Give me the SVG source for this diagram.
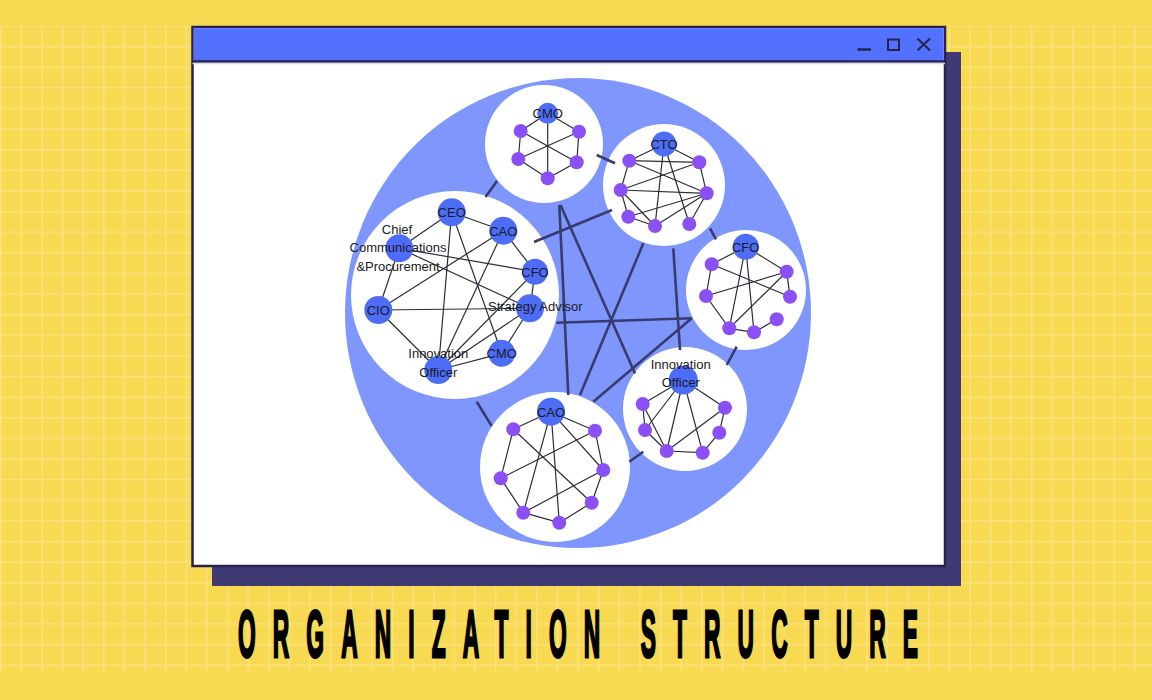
<svg xmlns="http://www.w3.org/2000/svg" width="1152" height="700" viewBox="0 0 1152 700">
<defs>
<pattern id="grid" x="-0.05" y="25.25" width="20.62" height="20.62" patternUnits="userSpaceOnUse">
<path d="M0.75 0 V20.62 M0 0.75 H20.62" stroke="#FAE27E" stroke-width="1.5" fill="none"/>
</pattern>
<style>
.e{stroke:#2d2d3a;stroke-width:1.2;fill:none}
.c{stroke:#383b6e;stroke-width:2.6;fill:none}
.bn{fill:#4D6DF6}
.pn{fill:#8B50F5}
.wc{fill:#ffffff}
.lbl{font-family:"Liberation Sans",Arial,sans-serif;font-size:13px;fill:#1a1a24;text-anchor:middle}
.ico{stroke:#27244a;fill:none}
</style>
</defs>
<rect x="0" y="0" width="1152" height="700" fill="#F8D952"/>
<rect x="0" y="26" width="1152" height="647" fill="url(#grid)"/>

<g id="window">
<rect x="212" y="52" width="749" height="534" fill="#3F3A73"/>
<rect x="192.5" y="27" width="752.5" height="539" fill="#ffffff" stroke="#2B2150" stroke-width="2.5"/>
<rect x="193.75" y="28.25" width="750" height="33" fill="#5271FF"/>
<line x1="192.5" y1="61.5" x2="945" y2="61.5" stroke="#2B2150" stroke-width="2.5"/>
<line x1="192.5" y1="63.5" x2="945" y2="63.5" stroke="#d8d6ec" stroke-width="1.5"/>
<line class="ico" x1="857.5" y1="49.5" x2="871" y2="49.5" stroke-width="2.5"/>
<rect class="ico" x="888" y="39.5" width="11" height="10.5" stroke-width="2"/>
<path class="ico" d="M917.5 38.5 L930 50.5 M930 38.5 L917.5 50.5" stroke-width="2"/>
</g>

<g id="bigcircle">
<ellipse cx="578" cy="313" rx="233" ry="235" fill="#7F97FD"/>
</g>

<g id="cluster-circles">
<circle class="wc" cx="455" cy="295" r="104"/>
<circle class="wc" cx="544" cy="144" r="59"/>
<circle class="wc" cx="664" cy="185" r="61"/>
<circle class="wc" cx="746" cy="290" r="60"/>
<circle class="wc" cx="685" cy="409" r="62"/>
<circle class="wc" cx="555" cy="467" r="75"/>
</g>

<g id="connectors">
<line class="c" x1="596.7" y1="155" x2="615" y2="163.3"/>
<line class="c" x1="497" y1="181" x2="485.5" y2="197"/>
<line class="c" x1="534" y1="242" x2="612" y2="210"/>
<line class="c" x1="559.3" y1="205" x2="568.3" y2="395"/>
<line class="c" x1="560.5" y1="205" x2="635" y2="373.5"/>
<line class="c" x1="643.3" y1="243.3" x2="580" y2="395"/>
<line class="c" x1="673.3" y1="248.3" x2="680" y2="350"/>
<line class="c" x1="556.5" y1="322.7" x2="691.7" y2="318.3"/>
<line class="c" x1="691.7" y1="318.3" x2="593.3" y2="401.7"/>
<line class="c" x1="710" y1="228.3" x2="716" y2="239.3"/>
<line class="c" x1="736.7" y1="346.7" x2="726.7" y2="365"/>
<line class="c" x1="643.3" y1="451.7" x2="629.3" y2="461.7"/>
<line class="c" x1="476.7" y1="401.7" x2="491.7" y2="426"/>
</g>

<g id="main-cluster">
<g class="edges">
<line class="e" x1="451.7" y1="212.3" x2="503.3" y2="230.7"/>
<line class="e" x1="451.7" y1="212.3" x2="399.3" y2="248.3"/>
<line class="e" x1="451.7" y1="212.3" x2="438.3" y2="370"/>
<line class="e" x1="451.7" y1="212.3" x2="501.7" y2="353.3"/>
<line class="e" x1="503.3" y1="230.7" x2="535" y2="271.7"/>
<line class="e" x1="503.3" y1="230.7" x2="378.3" y2="310"/>
<line class="e" x1="503.3" y1="230.7" x2="438.3" y2="370"/>
<line class="e" x1="399.3" y1="248.3" x2="535" y2="271.7"/>
<line class="e" x1="399.3" y1="248.3" x2="530" y2="308.3"/>
<line class="e" x1="399.3" y1="248.3" x2="378.3" y2="310"/>
<line class="e" x1="535" y1="271.7" x2="438.3" y2="370"/>
<line class="e" x1="535" y1="271.7" x2="530" y2="308.3"/>
<line class="e" x1="530" y1="308.3" x2="438.3" y2="370"/>
<line class="e" x1="378.3" y1="310" x2="530" y2="308.3"/>
<line class="e" x1="378.3" y1="310" x2="438.3" y2="370"/>
<line class="e" x1="530" y1="308.3" x2="501.7" y2="353.3"/>
<line class="e" x1="501.7" y1="353.3" x2="438.3" y2="370"/>
</g>
<g id="n-ceo"><circle class="bn" cx="451.7" cy="212.3" r="14"/><text class="lbl" x="451.7" y="217">CEO</text></g>
<g id="n-cao"><circle class="bn" cx="503.3" cy="230.7" r="14"/><text class="lbl" x="503.3" y="235.5">CAO</text></g>
<g id="n-cfo"><circle class="bn" cx="535" cy="271.7" r="13"/><text class="lbl" x="535" y="276.5">CFO</text></g>
<g id="n-sa"><circle class="bn" cx="530" cy="308.3" r="14"/><text class="lbl" x="488" y="311" style="text-anchor:start">Strategy Advisor</text></g>
<g id="n-cmo"><circle class="bn" cx="501.7" cy="353.3" r="13.5"/><text class="lbl" x="501.7" y="358">CMO</text></g>
<g id="n-io"><circle class="bn" cx="438.3" cy="370" r="14"/><text class="lbl" x="438.3" y="358">Innovation</text><text class="lbl" x="438.3" y="376.5">Officer</text></g>
<g id="n-cio"><circle class="bn" cx="378.3" cy="310" r="14"/><text class="lbl" x="378.3" y="315">CIO</text></g>
<g id="n-cc"><circle class="bn" cx="399.3" cy="248.3" r="14"/><text class="lbl" x="397" y="233.5">Chief</text><text class="lbl" x="398" y="252">Communications</text><text class="lbl" x="398" y="270.5">&amp;Procurement</text></g>
</g>

<g id="cmo-cluster">
<g class="edges">
<line class="e" x1="547.7" y1="113.3" x2="520.7" y2="131"/>
<line class="e" x1="547.7" y1="113.3" x2="579" y2="131.7"/>
<line class="e" x1="547.7" y1="113.3" x2="547.7" y2="178.3"/>
<line class="e" x1="520.7" y1="131" x2="518.3" y2="159"/>
<line class="e" x1="579" y1="131.7" x2="576.7" y2="162.3"/>
<line class="e" x1="518.3" y1="159" x2="547.7" y2="178.3"/>
<line class="e" x1="576.7" y1="162.3" x2="547.7" y2="178.3"/>
<line class="e" x1="520.7" y1="131" x2="576.7" y2="162.3"/>
<line class="e" x1="579" y1="131.7" x2="518.3" y2="159"/>
</g>
<circle class="pn" cx="520.7" cy="131" r="7"/>
<circle class="pn" cx="579" cy="131.7" r="7"/>
<circle class="pn" cx="518.3" cy="159" r="7"/>
<circle class="pn" cx="576.7" cy="162.3" r="7"/>
<circle class="pn" cx="547.7" cy="178.3" r="7"/>
<g id="n-cmo2"><circle class="bn" cx="547.7" cy="113.3" r="10.5"/><text class="lbl" x="547.7" y="118">CMO</text></g>
</g>

<g id="cto-cluster">
<g class="edges">
<line class="e" x1="664" y1="144" x2="629.3" y2="160.7"/>
<line class="e" x1="664" y1="144" x2="699.3" y2="162.3"/>
<line class="e" x1="664" y1="144" x2="655" y2="226"/>
<line class="e" x1="664" y1="144" x2="689.3" y2="224"/>
<line class="e" x1="629.3" y1="160.7" x2="699.3" y2="162.3"/>
<line class="e" x1="629.3" y1="160.7" x2="620.7" y2="190"/>
<line class="e" x1="629.3" y1="160.7" x2="706.7" y2="193.3"/>
<line class="e" x1="699.3" y1="162.3" x2="620.7" y2="190"/>
<line class="e" x1="699.3" y1="162.3" x2="706.7" y2="193.3"/>
<line class="e" x1="620.7" y1="190" x2="706.7" y2="193.3"/>
<line class="e" x1="620.7" y1="190" x2="655" y2="226"/>
<line class="e" x1="620.7" y1="190" x2="628.3" y2="216.7"/>
<line class="e" x1="706.7" y1="193.3" x2="628.3" y2="216.7"/>
<line class="e" x1="706.7" y1="193.3" x2="655" y2="226"/>
<line class="e" x1="706.7" y1="193.3" x2="689.3" y2="224"/>
<line class="e" x1="628.3" y1="216.7" x2="655" y2="226"/>
</g>
<circle class="pn" cx="629.3" cy="160.7" r="7"/>
<circle class="pn" cx="699.3" cy="162.3" r="7"/>
<circle class="pn" cx="620.7" cy="190" r="7"/>
<circle class="pn" cx="706.7" cy="193.3" r="7"/>
<circle class="pn" cx="628.3" cy="216.7" r="7"/>
<circle class="pn" cx="655" cy="226" r="7"/>
<circle class="pn" cx="689.3" cy="224" r="7"/>
<g id="n-cto"><circle class="bn" cx="664" cy="144" r="12.5"/><text class="lbl" x="664" y="148.5">CTO</text></g>
</g>

<g id="cfo-cluster">
<g class="edges">
<line class="e" x1="745.7" y1="246.7" x2="711.7" y2="264.3"/>
<line class="e" x1="745.7" y1="246.7" x2="786.7" y2="271.7"/>
<line class="e" x1="745.7" y1="246.7" x2="729.3" y2="328.3"/>
<line class="e" x1="745.7" y1="246.7" x2="754" y2="332.3"/>
<line class="e" x1="711.7" y1="264.3" x2="706" y2="296"/>
<line class="e" x1="711.7" y1="264.3" x2="790" y2="296.7"/>
<line class="e" x1="786.7" y1="271.7" x2="706" y2="296"/>
<line class="e" x1="786.7" y1="271.7" x2="790" y2="296.7"/>
<line class="e" x1="786.7" y1="271.7" x2="729.3" y2="328.3"/>
<line class="e" x1="706" y1="296" x2="729.3" y2="328.3"/>
<line class="e" x1="776.7" y1="319.3" x2="754" y2="332.3"/>
<line class="e" x1="729.3" y1="328.3" x2="754" y2="332.3"/>
</g>
<circle class="pn" cx="711.7" cy="264.3" r="7"/>
<circle class="pn" cx="786.7" cy="271.7" r="7"/>
<circle class="pn" cx="706" cy="296" r="7"/>
<circle class="pn" cx="790" cy="296.7" r="7"/>
<circle class="pn" cx="776.7" cy="319.3" r="7"/>
<circle class="pn" cx="729.3" cy="328.3" r="7"/>
<circle class="pn" cx="754" cy="332.3" r="7"/>
<g id="n-cfo2"><circle class="bn" cx="745.7" cy="246.7" r="13"/><text class="lbl" x="745.7" y="251.5">CFO</text></g>
</g>

<g id="io-cluster">
<g class="edges">
<line class="e" x1="683.3" y1="380" x2="642.7" y2="404"/>
<line class="e" x1="683.3" y1="380" x2="725" y2="407.7"/>
<line class="e" x1="683.3" y1="380" x2="645" y2="430"/>
<line class="e" x1="683.3" y1="380" x2="666.7" y2="451"/>
<line class="e" x1="683.3" y1="380" x2="702.7" y2="452.7"/>
<line class="e" x1="642.7" y1="404" x2="645" y2="430"/>
<line class="e" x1="642.7" y1="404" x2="666.7" y2="451"/>
<line class="e" x1="725" y1="407.7" x2="719.3" y2="432.7"/>
<line class="e" x1="725" y1="407.7" x2="666.7" y2="451"/>
<line class="e" x1="645" y1="430" x2="666.7" y2="451"/>
<line class="e" x1="719.3" y1="432.7" x2="702.7" y2="452.7"/>
<line class="e" x1="666.7" y1="451" x2="702.7" y2="452.7"/>
</g>
<circle class="pn" cx="642.7" cy="404" r="7"/>
<circle class="pn" cx="725" cy="407.7" r="7"/>
<circle class="pn" cx="645" cy="430" r="7"/>
<circle class="pn" cx="719.3" cy="432.7" r="7"/>
<circle class="pn" cx="666.7" cy="451" r="7"/>
<circle class="pn" cx="702.7" cy="452.7" r="7"/>
<g id="n-io2"><circle class="bn" cx="683.3" cy="380" r="14.5"/><text class="lbl" x="680.7" y="369">Innovation</text><text class="lbl" x="680.7" y="387">Officer</text></g>
</g>

<g id="cao-cluster">
<g class="edges">
<line class="e" x1="551" y1="411.7" x2="513.3" y2="429.3"/>
<line class="e" x1="551" y1="411.7" x2="595" y2="430.7"/>
<line class="e" x1="551" y1="411.7" x2="523.3" y2="512.7"/>
<line class="e" x1="551" y1="411.7" x2="559.3" y2="522.7"/>
<line class="e" x1="551" y1="411.7" x2="603.3" y2="470"/>
<line class="e" x1="513.3" y1="429.3" x2="500.7" y2="478.3"/>
<line class="e" x1="513.3" y1="429.3" x2="591.7" y2="502.7"/>
<line class="e" x1="595" y1="430.7" x2="500.7" y2="478.3"/>
<line class="e" x1="595" y1="430.7" x2="603.3" y2="470"/>
<line class="e" x1="500.7" y1="478.3" x2="523.3" y2="512.7"/>
<line class="e" x1="603.3" y1="470" x2="523.3" y2="512.7"/>
<line class="e" x1="603.3" y1="470" x2="591.7" y2="502.7"/>
<line class="e" x1="591.7" y1="502.7" x2="559.3" y2="522.7"/>
<line class="e" x1="523.3" y1="512.7" x2="559.3" y2="522.7"/>
</g>
<circle class="pn" cx="513.3" cy="429.3" r="7"/>
<circle class="pn" cx="595" cy="430.7" r="7"/>
<circle class="pn" cx="500.7" cy="478.3" r="7"/>
<circle class="pn" cx="603.3" cy="470" r="7"/>
<circle class="pn" cx="591.7" cy="502.7" r="7"/>
<circle class="pn" cx="523.3" cy="512.7" r="7"/>
<circle class="pn" cx="559.3" cy="522.7" r="7"/>
<g id="n-cao2"><circle class="bn" cx="551" cy="411.7" r="14"/><text class="lbl" x="551" y="416.5">CAO</text></g>
</g>

<g id="title">
<text transform="scale(0.34,1)" x="700" y="657" textLength="2000" lengthAdjust="spacing" font-family="'Liberation Sans',Arial,sans-serif" font-weight="bold" font-size="67" fill="#000" stroke="#000" stroke-width="3">ORGANIZATION STRUCTURE</text>
</g>
</svg>
